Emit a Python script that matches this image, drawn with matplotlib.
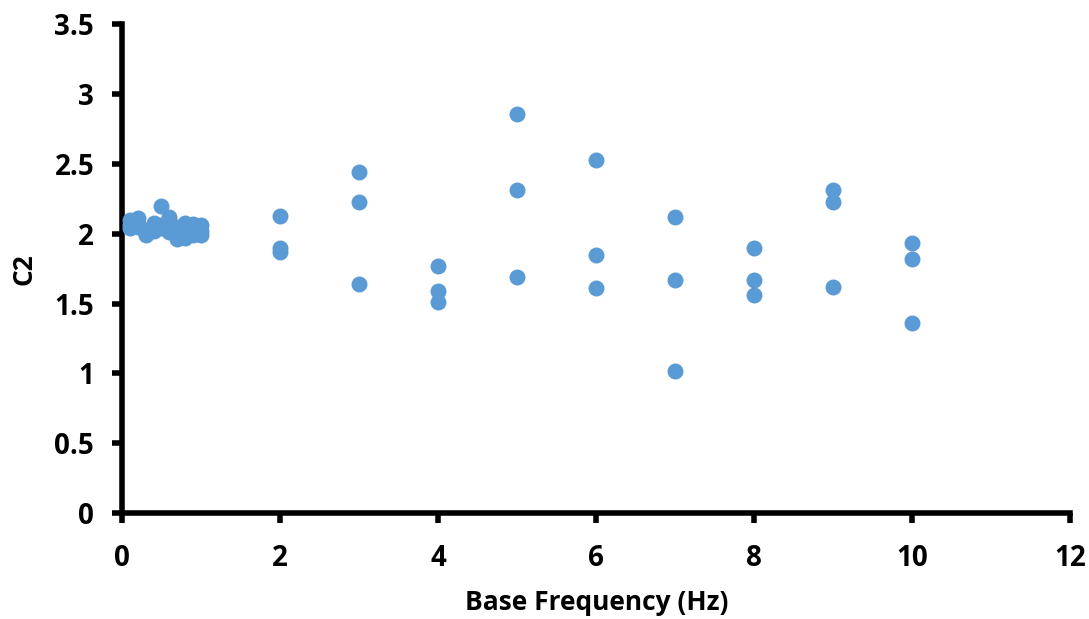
import numpy as np
import matplotlib
matplotlib.use("Agg")
import matplotlib.pyplot as plt

# frequencies (Hz), three measurements each
freq_low = [0.1, 0.2, 0.3, 0.4, 0.5, 0.6, 0.7, 0.8, 0.9, 1.0]
c2_low_a = [2.10, 2.11, 2.03, 2.08, 2.20, 2.12, 2.05, 2.08, 2.07, 2.06]
c2_low_b = [2.06, 2.07, 2.00, 2.05, 2.06, 2.08, 1.99, 2.00, 2.03, 2.02]
c2_low_c = [2.04, 2.05, 1.99, 2.02, 2.04, 2.01, 1.96, 1.97, 1.99, 1.99]

freq_high = [2, 3, 4, 5, 6, 7, 8, 9, 10]
c2_high_a = [2.13, 2.44, 1.77, 2.86, 2.53, 2.12, 1.90, 2.31, 1.93]
c2_high_b = [1.90, 2.23, 1.59, 2.31, 1.85, 1.67, 1.67, 2.23, 1.82]
c2_high_c = [1.87, 1.64, 1.51, 1.69, 1.61, 1.02, 1.56, 1.62, 1.36]

x = np.array(freq_low * 3 + freq_high * 3)
y = np.array(c2_low_a + c2_low_b + c2_low_c + c2_high_a + c2_high_b + c2_high_c)

plt.rcParams['font.family'] = ['Open Sans', 'DejaVu Sans']
plt.rcParams['font.weight'] = 'bold'

fig = plt.figure(figsize=(10.89, 6.19), dpi=100)
ax = fig.add_axes([0.112, 0.171, 0.871, 0.790])

ax.scatter(x, y, s=132, color='#5B9BD5', zorder=3, linewidths=0, clip_on=False)

ax.set_xlim(0, 12)
ax.set_ylim(0, 3.5)
ax.set_xticks(np.arange(0, 13, 2))
ax.set_yticks(np.arange(0, 3.6, 0.5))
ax.set_yticklabels(['0', '0.5', '1', '1.5', '2', '2.5', '3', '3.5'])

for s in ['top', 'right']:
    ax.spines[s].set_visible(False)
for s in ['left', 'bottom']:
    ax.spines[s].set_linewidth(4)
    ax.spines[s].set_capstyle('projecting')
ax.tick_params(axis='both', width=4, length=7, labelsize=20)
ax.tick_params(axis='x', pad=15)
ax.tick_params(axis='y', pad=13)
for lab in ax.get_xticklabels() + ax.get_yticklabels():
    lab.set_fontweight('bold')

ax.set_xlabel('Base Frequency (Hz)', fontsize=19, fontweight='bold', labelpad=12)
ax.set_ylabel('C2', fontsize=19, fontweight='bold', labelpad=12)

fig.savefig('out.png', dpi=100)
